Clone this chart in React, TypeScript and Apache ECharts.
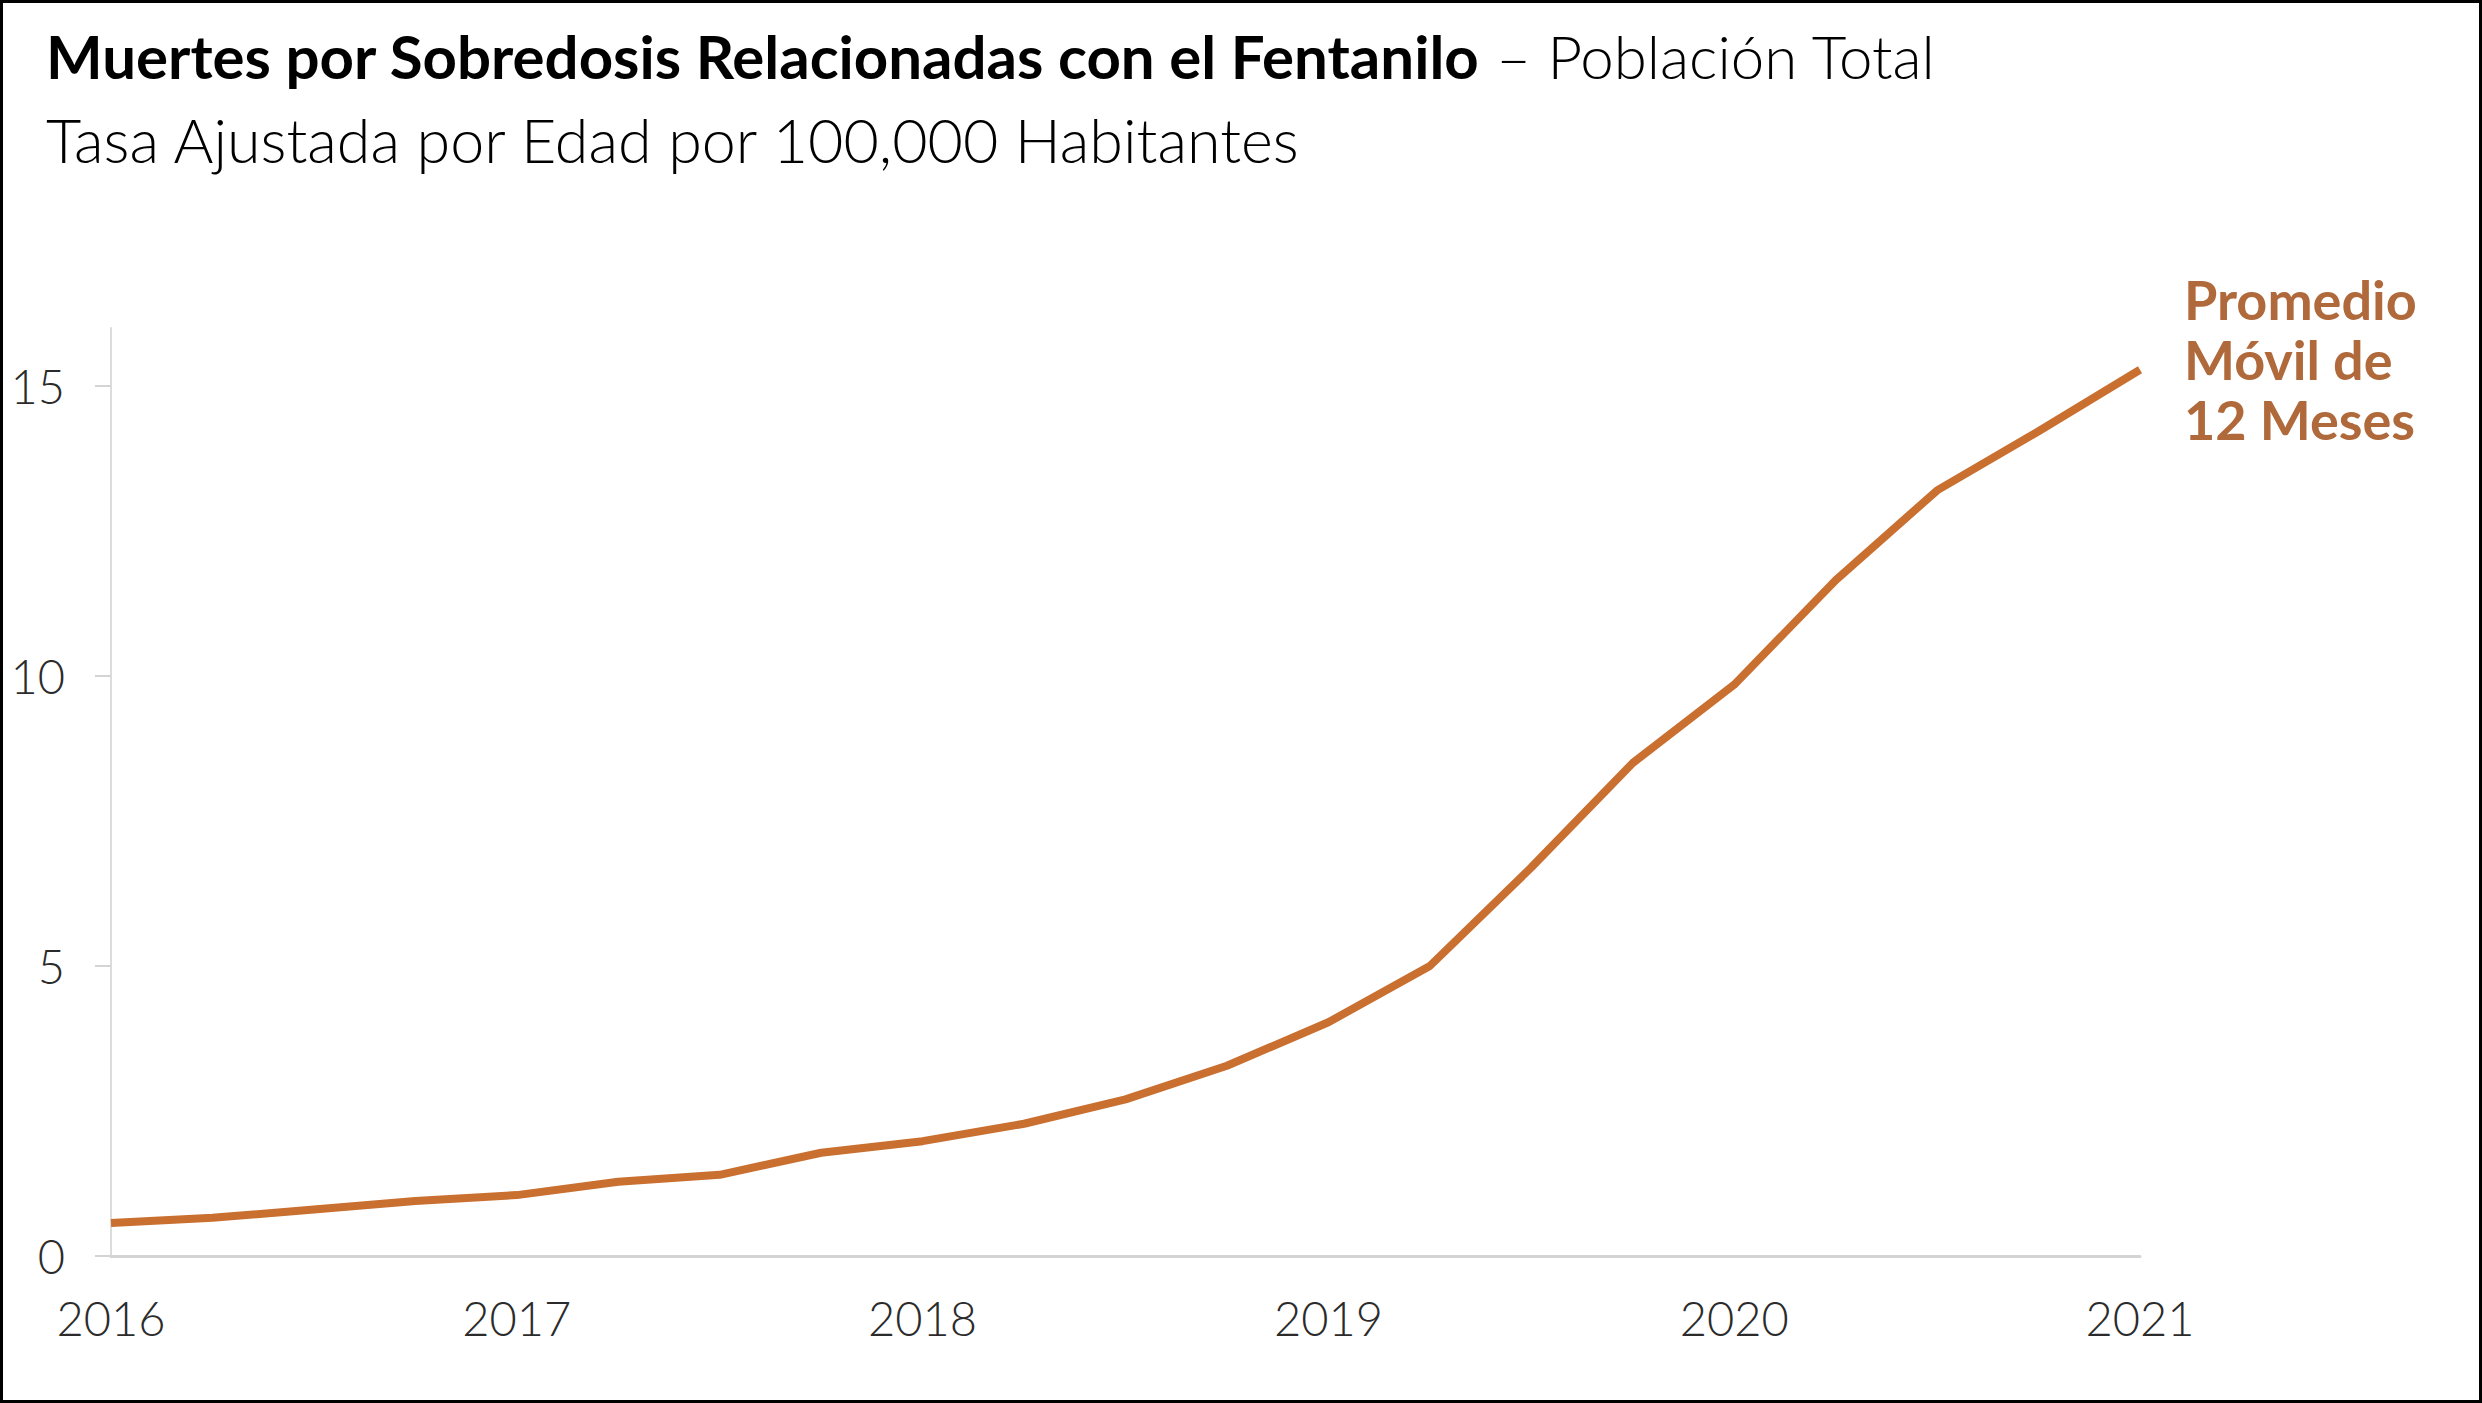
import React, { useEffect, useRef } from "react";
import * as echarts from "echarts";

const periods: number[] = [
  2016.0, 2016.25, 2016.5, 2016.75,
  2017.0, 2017.25, 2017.5, 2017.75,
  2018.0, 2018.25, 2018.5, 2018.75,
  2019.0, 2019.25, 2019.5, 2019.75,
  2020.0, 2020.25, 2020.5, 2020.75,
  2021.0,
];
const rates: number[] = [
  0.57, 0.66, 0.8, 0.95,
  1.05, 1.28, 1.4, 1.78,
  1.98, 2.28, 2.7, 3.28,
  4.03, 5.0, 6.7, 8.5,
  9.85, 11.65, 13.2, 14.22,
  15.28,
];
const yTicks: number[] = [0, 5, 10, 15];
const titleBold = "Muertes por Sobredosis Relacionadas con el Fentanilo";
const titleRest = " – Población Total";
const subtitle = "Tasa Ajustada por Edad por 100,000 Habitantes";
const seriesLabel = "Promedio\nMóvil de\n12 Meses";

const FONT = "Lato, 'Open Sans', sans-serif";

export default function App() {
  const ref = useRef<HTMLDivElement>(null);
  useEffect(() => {
    document.body.style.margin = "0";
    if (!ref.current) return;
    const chart = echarts.init(ref.current, undefined, { renderer: "svg" });
    chart.setOption({
      animation: false,
      backgroundColor: "#ffffff",
      textStyle: { fontFamily: FONT },
      title: [
        {
          left: 38,
          top: 18,
          text: `{b|${titleBold}}{r|${titleRest}}`,
          textStyle: {
            rich: {
              b: { fontFamily: FONT, fontSize: 60, fontWeight: "bold", color: "#000" },
              r: { fontFamily: FONT, fontSize: 60, fontWeight: 300, color: "#000" },
            },
          },
        },
        {
          left: 38,
          top: 101,
          text: subtitle,
          textStyle: { fontFamily: FONT, fontSize: 61, fontWeight: 300, color: "#000" },
        },
      ],
      grid: { left: 108, right: 339, top: 325, bottom: 144, containLabel: false },
      xAxis: {
        type: "value",
        min: 2016,
        max: 2021,
        interval: 1,
        axisLine: { show: true, lineStyle: { color: "#d4d4d4", width: 3 } },
        axisTick: { show: false },
        splitLine: { show: false },
        axisLabel: {
          margin: 38,
          fontSize: 47,
          color: "#2b2b2b",
          fontFamily: FONT,
          fontWeight: 300,
          formatter: (v: number) => String(v),
        },
      },
      yAxis: {
        type: "value",
        min: 0,
        max: 16,
        interval: 5,
        axisLine: { show: true, lineStyle: { color: "#dcdcdc", width: 2 } },
        axisTick: { show: true, length: 16, customValues: yTicks, lineStyle: { color: "#d4d4d4", width: 2 } },
        splitLine: { show: false },
        axisLabel: {
          customValues: yTicks,
          margin: 46,
          fontSize: 47,
          color: "#2b2b2b",
          fontFamily: FONT,
          fontWeight: 300,
        },
      },
      series: [
        {
          type: "line",
          data: periods.map((p, i) => [p, rates[i]]),
          showSymbol: false,
          symbol: "none",
          lineStyle: { color: "#C96F30", width: 8, cap: "butt", join: "round" },
          endLabel: {
            show: true,
            formatter: () => seriesLabel,
            distance: 44,
            offset: [0, -10],
            fontFamily: FONT,
            fontSize: 54,
            fontWeight: "bold",
            lineHeight: 60,
            color: "#B0693A",
            align: "left",
            verticalAlign: "middle",
          },
        },
      ],
    });
    return () => chart.dispose();
  }, []);
  return (
    <div
      style={{
        width: 2482,
        height: 1403,
        boxSizing: "border-box",
        border: "3px solid #000",
        background: "#fff",
        position: "relative",
      }}
    >
      <div ref={ref} style={{ width: "100%", height: "100%" }} />
    </div>
  );
}
